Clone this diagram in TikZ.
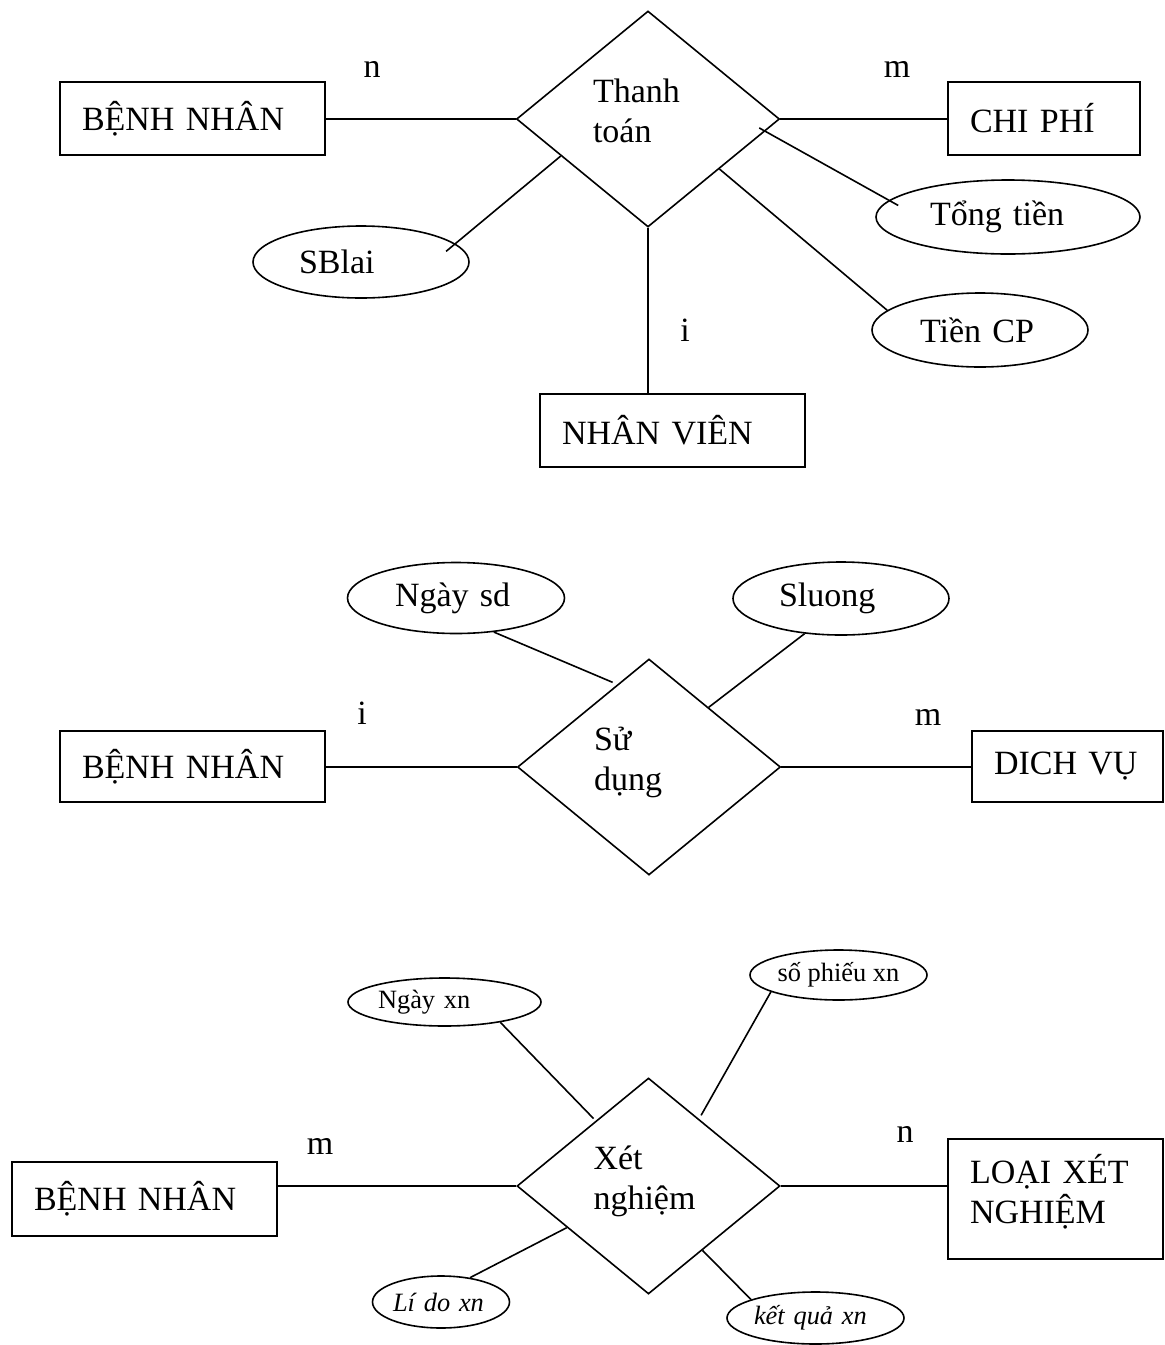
\documentclass[tikz,border=0pt]{standalone}
\usepackage{fontspec}
\setmainfont{Liberation Serif}
\usepackage{tikz}
\usetikzlibrary{shapes,shapes.geometric,calc,positioning}
\tikzset{
  ent/.style={draw, rectangle, align=left, inner xsep=11pt, inner ysep=0pt, text width=110.5pt, minimum height=36.5pt},
  rel/.style={draw, diamond, align=left, inner sep=0pt, text width=55pt, minimum width=131.5pt, minimum height=108pt},
  attr/.style={draw, ellipse, align=left, inner sep=0pt},
  attr_s/.style={attr, font=\fontsize{13.2}{15}\selectfont},
  card/.style={anchor=base, inner sep=0pt}
}
\begin{document}
\begin{tikzpicture}[x=0.5pt, y=-0.5pt, line width=0.8pt]
\tikzstyle{every node}=[font=\fontsize{17}{20}\selectfont]
\useasboundingbox (0,0) rectangle (1165,1345);
% Thanh toan
\node[rel] (tt) at (648,119) {Thanh\\toán\rule[-8.5pt]{0pt}{8.5pt}};
\node[ent] (bn1) at (192.5,118.5) {BỆNH NHÂN};
\node[ent, text width=74pt] (cp) at (1044,118.5) {CHI PHÍ};
\node[ent] (nv) at (672.5,430.5) {NHÂN VIÊN};
\node[attr, minimum width=108pt, minimum height=36pt, text width=62pt] (sblai) at (361,262) {SBlai};
\node[attr, minimum width=132pt, minimum height=37pt, text width=78pt] (tongtien) at (1008,217) {Tổng tiền};
\node[attr, minimum width=108pt, minimum height=37pt, text width=60pt] (tiencp) at (980,330) {Tiền CP};
\node[card] (n1) at (372,77) {n};
\node[card] (m1) at (897,77) {m};
\node[card] (i1) at (685,341) {i};
\draw (tt.west -| bn1.east) -- (tt.west);
\draw (tt.east) -- (tt.east -| cp.west);
\draw (tt.south) -- (tt.south |- nv.north);
\draw[shorten <=-6pt] (sblai.11) -- (tt.203);
\draw[shorten <=-3.5pt, shorten >=-5.3pt] (tt.-6) -- (tongtien.172);
\draw (tt.-35) -- (tiencp.168);
% Su dung
\node[rel] (sd) at (649,767) {Sử\\dụng\rule[-8.5pt]{0pt}{8.5pt}};
\node[ent, minimum height=35.5pt] (bn2) at (192.5,766.5) {BỆNH NHÂN};
\node[ent, minimum height=35.5pt, text width=73.5pt] (dv) at (1067.5,766.5) {DICH VỤ};
\node[attr, minimum width=108.5pt, minimum height=35.5pt, text width=61pt] (ngaysd) at (456,598) {Ngày sd};
\node[attr, minimum width=108pt, minimum height=36.5pt, text width=62pt] (sluong) at (841,598.5) {Sluong};
\node[card] (i2) at (362,724) {i};
\node[card] (m2) at (928,725) {m};
\draw (sd.west -| bn2.east) -- (sd.west);
\draw (sd.east) -- (sd.east -| dv.west);
\draw[shorten >=2.5pt] (ngaysd.-42) -- (sd.111);
\draw (sluong.224) -- (sd.45);
% Xet nghiem
\node[rel] (xn) at (648.5,1186) {Xét\\nghiệm\rule[-8.5pt]{0pt}{8.5pt}};
\node[ent, minimum height=37pt] (bn3) at (144.5,1199) {BỆNH NHÂN};
\node[ent, minimum height=60pt, text width=85.5pt] (lxn) at (1055.5,1199) {LOẠI XÉT\\NGHIỆM\rule[-10pt]{0pt}{10pt}};
\node[attr_s, minimum width=96.5pt, minimum height=24pt, text width=66.5pt] (ngayxn) at (444.5,1002) {Ngày xn};
\node[attr_s, minimum width=88.5pt, minimum height=25pt] (sophieu) at (838.5,975) {số phiếu xn};
\node[attr_s, minimum width=68.5pt, minimum height=26pt, text width=48pt] (lido) at (441,1302) {\itshape Lí do xn};
\node[attr_s, minimum width=88.5pt, minimum height=26pt, text width=61.5pt] (ketqua) at (815.5,1318) {\itshape kết quả xn};
\node[card] (m3) at (320,1154) {m};
\node[card] (n3) at (905,1142) {n};
\draw (xn.west -| bn3.east) -- (xn.west);
\draw (xn.east) -- (xn.east -| lxn.west);
\draw[shorten >=1.5pt] (ngayxn.-20) -- (xn.129);
\draw[shorten >=2pt] (sophieu.194) -- (xn.53);
\draw (lido.40) -- (xn.207);
\draw (xn.-50) -- (ketqua.164);
\end{tikzpicture}
\end{document}
